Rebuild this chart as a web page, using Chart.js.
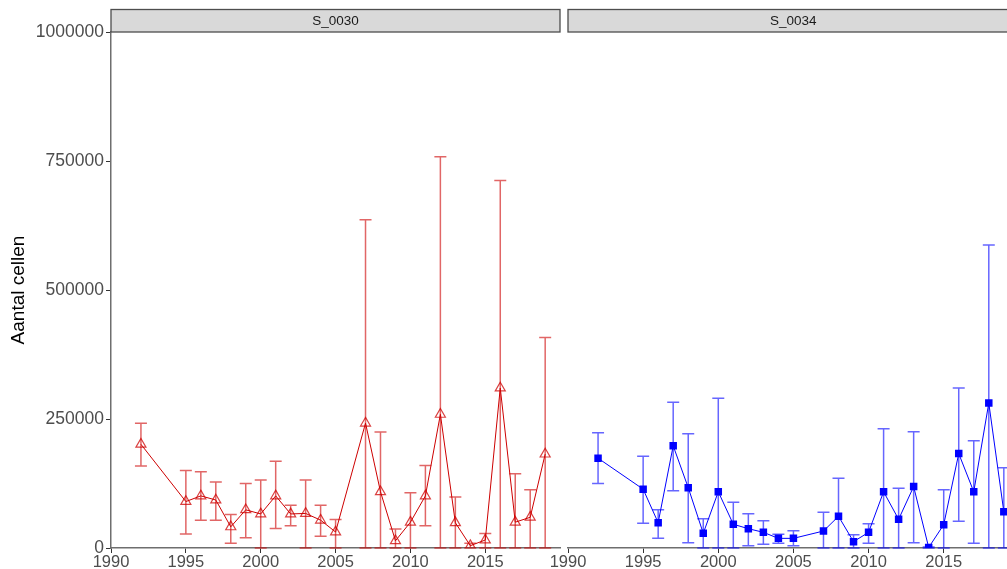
<!DOCTYPE html>
<html>
<head>
<meta charset="utf-8">
<script src="https://cdn.jsdelivr.net/npm/chart.js@4.4.1/dist/chart.umd.min.js"></script>
<style>
  html, body { margin: 0; padding: 0; background: #fff; overflow: hidden; width: 1007px; height: 569px; }
  #left { position: absolute; left: 0; top: 0; }
  #right { position: absolute; left: 540px; top: 0; }
</style>
</head>
<body>
<canvas id="left" width="567" height="569"></canvas>
<canvas id="right" width="484" height="569"></canvas>
<script>
// tick labels
var xTicks = [1990, 1995, 2000, 2005, 2010, 2015];
var yTicks = [0, 250000, 500000, 750000, 1000000];

// S_0030
var years0030 = [1992, 1995, 1996, 1997, 1998, 1999, 2000, 2001, 2002, 2003, 2004, 2005, 2007, 2008, 2009, 2010, 2011, 2012, 2013, 2014, 2015, 2016, 2017, 2018, 2019];
var mean0030 = [201000, 90000, 101000, 93000, 41000, 74000, 66000, 101000, 66000, 67000, 54000, 31000, 242000, 109000, 14000, 50000, 101000, 259000, 49000, 4500, 15500, 310000, 50000, 59500, 182000];
var lo0030 = [159000, 27000, 54000, 54000, 9000, 20000, 0, 38000, 43000, 0, 23000, 0, 0, 0, 0, 0, 43000, 0, 0, 0, 0, 0, 0, 0, 0];
var hi0030 = [242000, 150000, 148000, 128000, 65000, 125000, 132000, 168000, 83000, 132000, 83000, 55000, 636000, 225000, 37000, 107000, 160000, 758000, 99000, 9000, 28000, 712000, 144000, 113000, 408000];

// S_0034
var years0034 = [1992, 1995, 1996, 1997, 1998, 1999, 2000, 2001, 2002, 2003, 2004, 2005, 2007, 2008, 2009, 2010, 2011, 2012, 2013, 2014, 2015, 2016, 2017, 2018, 2019];
var mean0034 = [174000, 114000, 49000, 198000, 117000, 28500, 109000, 46000, 37400, 30400, 18700, 18700, 32900, 61400, 12300, 30400, 109000, 55600, 119000, 1000, 45200, 183000, 109000, 281000, 70400];
var lo0034 = [125000, 48000, 18700, 111000, 10300, 0, 0, 0, 4500, 7100, 9100, 4500, 0, 0, 0, 9100, 0, 0, 10300, 0, 0, 51700, 9100, 0, 0];
var hi0034 = [223500, 177700, 74200, 282300, 221500, 56800, 290100, 88500, 66500, 52900, 26500, 33500, 69200, 135100, 25800, 47100, 231200, 115700, 225400, 2000, 113000, 310100, 208000, 587000, 155600];

var FONT = '"Liberation Sans", Arial, sans-serif';

function points(xs, ys) {
    return xs.map(function(x, i) { return { x: x, y: ys[i] }; });
}

/**
 * Error bars drawn from errLo / errHi through the chart scales
 */
var errorBars = {
    id: 'errorBars',
    beforeDatasetsDraw: function(chart) {
        var ctx = chart.ctx;
        var xs = chart.scales.x, ys = chart.scales.y;
        chart.data.datasets.forEach(function(ds) {
            if (!ds.errLo) return;
            ctx.save();
            ctx.strokeStyle = ds.errColor;
            ctx.lineWidth = 1.5;
            ds.data.forEach(function(p, i) {
                var x = xs.getPixelForValue(p.x);
                var y1 = ys.getPixelForValue(ds.errLo[i]);
                var y2 = ys.getPixelForValue(ds.errHi[i]);
                ctx.beginPath();
                ctx.moveTo(x, y1); ctx.lineTo(x, y2);
                ctx.moveTo(x - 6, y1); ctx.lineTo(x + 6, y1);
                ctx.moveTo(x - 6, y2); ctx.lineTo(x + 6, y2);
                ctx.stroke();
            });
            ctx.restore();
        });
    }
};

/**
 * Facet strip above the panel
 */
var strip = {
    id: 'strip',
    afterDraw: function(chart, args, opts) {
        var ctx = chart.ctx, a = chart.chartArea;
        ctx.save();
        ctx.fillStyle = '#D9D9D9';
        ctx.fillRect(a.left, 9.5, a.right - a.left, a.top - 9.5);
        ctx.strokeStyle = '#4D4D4D';
        ctx.lineWidth = 1.3;
        ctx.strokeRect(a.left, 9.5, a.right - a.left, a.top - 9.5);
        ctx.fillStyle = '#1A1A1A';
        ctx.font = '13.5px ' + FONT;
        ctx.textAlign = 'center';
        ctx.textBaseline = 'middle';
        ctx.fillText(opts.label, (a.left + a.right) / 2, (9.5 + a.top) / 2 + 1);
        ctx.restore();
    }
};

function makeChart(id, label, ds, showY, padLeft) {
    var yScale = {
        display: showY,
        min: 0,
        max: 1000000,
        afterBuildTicks: function(scale) {
            scale.ticks = yTicks.map(function(v) { return { value: v }; });
        },
        grid: { drawOnChartArea: false, drawTicks: true, tickLength: 5, tickColor: '#333333' },
        border: { display: true, color: '#6E6E6E', width: 1.5 },
        title: {
            display: true,
            text: 'Aantal cellen',
            color: '#000000',
            font: { family: FONT, size: 19 },
            padding: { top: 7, bottom: 0 }
        },
        ticks: {
            color: '#4D4D4D',
            padding: 2,
            font: { family: FONT, size: 17.5 },
            callback: function(v) { return String(v); }
        }
    };
    if (showY) {
        yScale.afterFit = function(scale) { scale.width = 111; };
    }

    return new Chart(document.getElementById(id), {
        type: 'line',
        data: { datasets: [ds] },
        plugins: [errorBars, strip],
        options: {
            responsive: false,
            animation: false,
            layout: { padding: { top: 32, right: 3, left: padLeft, bottom: 0 } },
            plugins: {
                legend: { display: false },
                tooltip: { enabled: false },
                strip: { label: label }
            },
            scales: {
                x: {
                    type: 'linear',
                    min: 1990,
                    max: 2019.99,
                    afterBuildTicks: function(scale) {
                        scale.ticks = xTicks.map(function(v) { return { value: v }; });
                    },
                    afterFit: function(scale) { scale.height = 21; },
                    grid: { drawOnChartArea: false, drawTicks: true, tickLength: 5, tickColor: '#333333' },
                    border: { display: true, color: '#6E6E6E', width: 1.5 },
                    ticks: {
                        color: '#4D4D4D',
                        padding: 0,
                        maxRotation: 0,
                        font: { family: FONT, size: 16.5 },
                        callback: function(v) { return String(v); }
                    }
                },
                y: yScale
            }
        }
    });
}

makeChart('left', 'S_0030', {
    data: points(years0030, mean0030),
    errLo: lo0030,
    errHi: hi0030,
    errColor: 'rgba(205, 0, 0, 0.6)',
    borderColor: '#CD0000',
    borderWidth: 1,
    tension: 0,
    pointStyle: 'triangle',
    pointRadius: 5.8,
    pointBorderWidth: 1.2,
    pointBorderColor: 'rgba(205, 0, 0, 0.75)',
    pointBackgroundColor: 'rgba(0, 0, 0, 0)'
}, true, 0);

makeChart('right', 'S_0034', {
    data: points(years0034, mean0034),
    errLo: lo0034,
    errHi: hi0034,
    errColor: 'rgba(0, 0, 255, 0.6)',
    borderColor: '#0000FF',
    borderWidth: 1,
    tension: 0,
    pointStyle: 'rect',
    pointRadius: 5.3,
    pointBorderWidth: 0,
    pointBackgroundColor: '#0000FF'
}, false, 28);
</script>
</body>
</html>
